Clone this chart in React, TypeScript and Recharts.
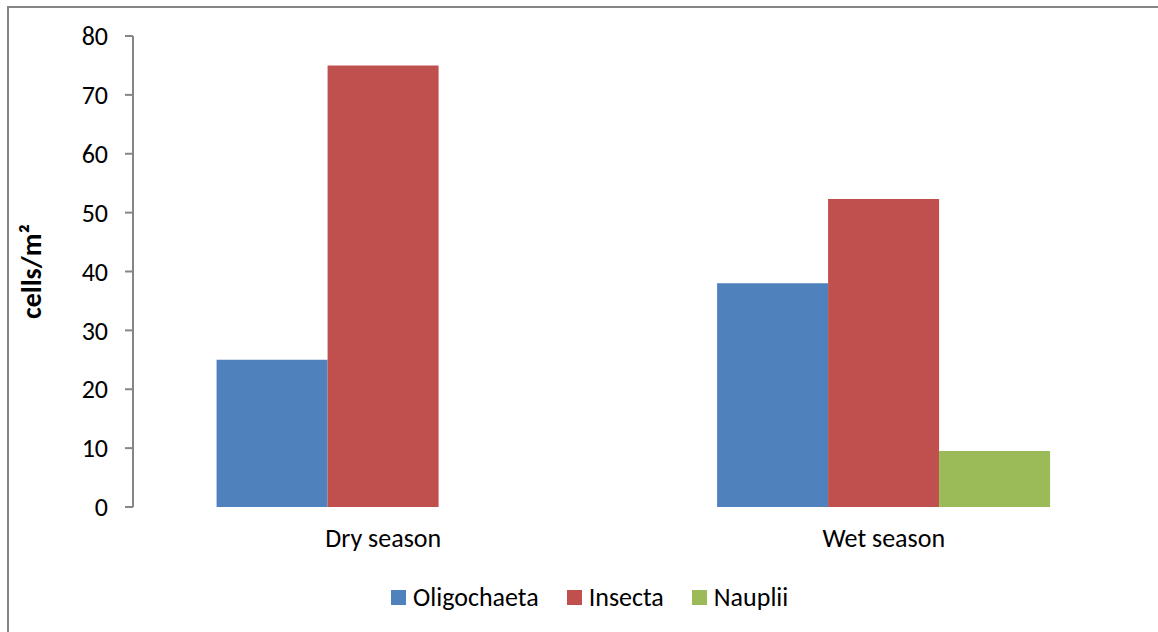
import React from 'react';
import { BarChart, Bar, XAxis, YAxis, Label } from 'recharts';

const categories = ['Dry season', 'Wet season'];
const oligochaeta = [25, 38];
const insecta = [75, 52.3];
const nauplii = [0, 9.5];
const yTicks = [0, 10, 20, 30, 40, 50, 60, 70, 80];

const seriesNames = ['Oligochaeta', 'Insecta', 'Nauplii'];
const seriesColors = ['#4F81BD', '#C0504D', '#9BBB59'];

const data = categories.map((c, i) => ({
  name: c,
  Oligochaeta: oligochaeta[i],
  Insecta: insecta[i],
  Nauplii: nauplii[i],
}));

const FONT = 'Carlito, Lato, sans-serif';
const AXIS = '#868686';

export default function App() {
  return (
    <div style={{ position: 'absolute', left: 0, top: 0, width: 1158, height: 632, overflow: 'hidden', background: '#fff', fontFamily: FONT }}>
      <div style={{ position: 'absolute', left: 7, top: 6, width: 1300, height: 800, border: `2px solid ${AXIS}`, boxSizing: 'border-box' }} />
      <div style={{ position: 'absolute', left: 0, top: 0 }}>
        <BarChart
          width={1158}
          height={632}
          data={data}
          margin={{ top: 36, right: 24, bottom: 65, left: 0 }}
          barCategoryGap="16.7%"
          barGap={0}
        >
          <XAxis
            xAxisId="grid"
            type="number"
            domain={[0, 2]}
            ticks={[0, 1, 2]}
            allowDataOverflow
            height={0}
            axisLine={{ stroke: AXIS, strokeWidth: 2 }}
            tickLine={{ stroke: AXIS, strokeWidth: 2 }}
            tickSize={8}
            tickFormatter={() => ''}
          />
          <XAxis
            xAxisId="cat"
            dataKey="name"
            height={60}
            axisLine={false}
            tickLine={false}
            tickMargin={16}
            tick={{ fill: '#000', fontSize: 26, fontFamily: FONT }}
          />
          <YAxis
            width={133}
            domain={[0, 80]}
            ticks={yTicks}
            interval={0}
            axisLine={{ stroke: AXIS, strokeWidth: 2 }}
            tickLine={{ stroke: AXIS, strokeWidth: 2 }}
            tickSize={8}
            tickMargin={17}
            tick={{ fill: '#000', fontSize: 26, fontFamily: FONT }}
          >
            <Label
              value="cells/m²"
              angle={-90}
              position="insideLeft"
              offset={31}
              style={{ textAnchor: 'middle', fontWeight: 'bold', fontSize: 28, fill: '#000', fontFamily: FONT }}
            />
          </YAxis>
          {seriesNames.map((s, i) => (
            <Bar key={s} dataKey={s} xAxisId="cat" fill={seriesColors[i]} isAnimationActive={false} />
          ))}
        </BarChart>
      </div>
      <div style={{ position: 'absolute', left: 391, top: 581, display: 'flex', alignItems: 'center', fontSize: 26, color: '#000', fontFamily: FONT, whiteSpace: 'nowrap' }}>
        {seriesNames.map((s, i) => (
          <div key={s} style={{ display: 'flex', alignItems: 'center', marginRight: i < seriesNames.length - 1 ? 28 : 0 }}>
            <span style={{ display: 'inline-block', width: 15, height: 15, background: seriesColors[i], marginRight: 7 }} />
            <span>{s}</span>
          </div>
        ))}
      </div>
    </div>
  );
}
